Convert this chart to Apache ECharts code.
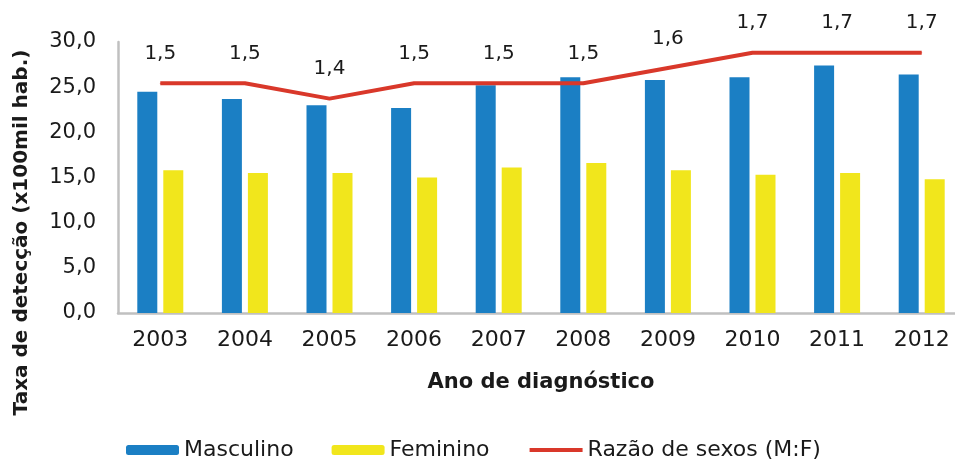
<!DOCTYPE html>
<html>
<head>
<meta charset="utf-8">
<script src="https://cdn.jsdelivr.net/npm/echarts@6/dist/echarts.min.js"></script>
<style>
  html, body { margin: 0; padding: 0; background: #fff; }
  #chart { width: 955px; height: 464px; }
</style>
</head>
<body>
<div id="chart"></div>
<script>
const anos = ['2003', '2004', '2005', '2006', '2007', '2008', '2009', '2010', '2011', '2012'];
const masculino = [24.5, 23.7, 23.0, 22.7, 25.2, 26.1, 25.8, 26.1, 27.4, 26.4];
const feminino = [15.8, 15.5, 15.5, 15.0, 16.1, 16.6, 15.8, 15.3, 15.5, 14.8];
const razao = [1.5, 1.5, 1.4, 1.5, 1.5, 1.5, 1.6, 1.7, 1.7, 1.7];

const fmt = v => Number(v).toFixed(1).replace('.', ',');
const txt = '#1a1a1a';
const font = 'DejaVu Sans';
const red = '#d9382a';

let myChart = echarts.init(document.getElementById('chart'), null, { renderer: 'canvas' });

let option = {
    backgroundColor: '#fff',
    animation: false,
    grid: { left: 118, width: 846, top: 42, height: 271, outerBoundsMode: 'none' },
    legend: {
        left: 121,
        top: 434,
        itemWidth: 53,
        itemHeight: 10,
        itemGap: 38,
        textStyle: { fontFamily: font, fontSize: 22, color: txt },
        data: [
            'Masculino',
            'Feminino',
            {
                name: 'Razão de sexos (M:F)',
                itemStyle: { opacity: 0 },
                lineStyle: { width: 4, color: red }
            }
        ]
    },
    xAxis: {
        type: 'category',
        data: anos,
        name: 'Ano de diagnóstico',
        nameLocation: 'middle',
        nameGap: 59,
        nameTextStyle: { fontFamily: font, fontSize: 21, fontWeight: 'bold', color: txt },
        axisLine: { lineStyle: { color: '#c0c0c0', width: 2.5 } },
        axisTick: { show: false },
        axisLabel: { fontFamily: font, fontSize: 22, color: txt, margin: 16 }
    },
    yAxis: [
        {
            type: 'value',
            min: 0,
            max: 30,
            interval: 5,
            name: 'Taxa de detecção (x100mil hab.)',
            nameLocation: 'middle',
            nameGap: 86,
            nameTextStyle: {
                fontFamily: font, fontSize: 20, fontWeight: 'bold', color: txt,
                padding: [0, 110, 0, 0]
            },
            axisLine: { show: true, lineStyle: { color: '#c0c0c0', width: 2.5 } },
            axisTick: { show: false },
            splitLine: { show: false },
            axisLabel: { fontFamily: font, fontSize: 21, color: txt, margin: 22, formatter: fmt }
        },
        {
            type: 'value',
            min: 0,
            max: 1.77,
            show: false,
            splitLine: { show: false }
        }
    ],
    series: [
        {
            name: 'Masculino',
            type: 'bar',
            data: masculino,
            barWidth: 20,
            barGap: '30%',
            itemStyle: { color: '#1b7fc4' }
        },
        {
            name: 'Feminino',
            type: 'bar',
            data: feminino,
            barWidth: 20,
            itemStyle: { color: '#f1e61c' }
        },
        {
            name: 'Razão de sexos (M:F)',
            type: 'line',
            yAxisIndex: 1,
            data: razao,
            z: 5,
            symbol: 'circle',
            symbolSize: 1,
            itemStyle: { color: red },
            lineStyle: { color: red, width: 4 },
            label: {
                show: true,
                position: 'top',
                distance: 19,
                fontFamily: font,
                fontSize: 20,
                color: txt,
                formatter: p => fmt(p.value)
            }
        }
    ]
};

option && myChart.setOption(option);
</script>
</body>
</html>
